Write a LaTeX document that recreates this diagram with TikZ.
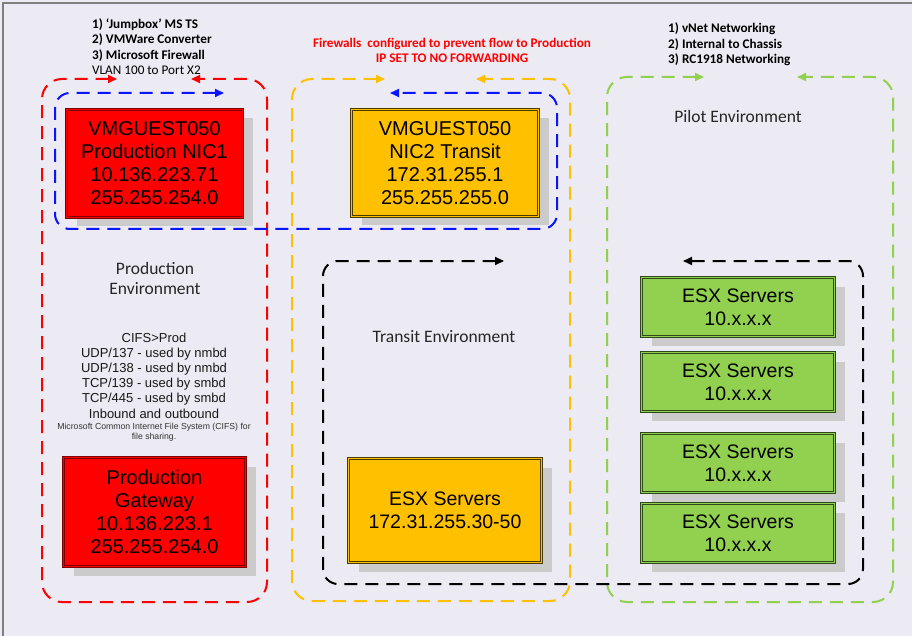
\documentclass[tikz,border=0pt]{standalone}
\usepackage{fontspec}
\setmainfont{Liberation Sans}
\newfontfamily\calfont{Carlito}
\usetikzlibrary{arrows.meta,shadows}
\definecolor{bg}{HTML}{ECEAF2}
\definecolor{framegray}{HTML}{808080}
\definecolor{cred}{HTML}{FF0000}
\definecolor{corg}{HTML}{FFC000}
\definecolor{cgrn}{HTML}{92D050}
\definecolor{cblu}{HTML}{0A14FF}
\definecolor{shadowgray}{HTML}{CBCBCB}
\definecolor{darkred}{HTML}{7A0000}
\definecolor{darkorg}{HTML}{4A3A00}
\definecolor{darkgrn}{HTML}{2F4A1A}
\begin{document}
\begin{tikzpicture}[x=1pt,y=-1pt,
  zone/.style={line width=2pt, dash pattern=on 13pt off 8pt, rounded corners=20pt, {Triangle[length=9pt,width=8pt]}-{Triangle[length=9pt,width=8pt]}},
  flow/.style={line width=2pt, dash pattern=on 13pt off 8pt, rounded corners=15pt, {Triangle[length=9pt,width=8pt]}-{Triangle[length=9pt,width=8pt]}},
  box/.style={line width=0.8pt, double distance=1.3pt, inner sep=0pt, align=center,
    font=\fontsize{20}{23}\selectfont,
    drop shadow={shadow xshift=10pt, shadow yshift=-9pt, fill=shadowgray, opacity=1}},
  redbox/.style={box, draw=darkred, double=cred, fill=cred},
  orgbox/.style={box, draw=darkorg, double=corg, fill=corg},
  grnbox/.style={box, draw=darkgrn, double=cgrn, fill=cgrn, font=\fontsize{19.5}{23}\selectfont},
  note/.style={inner sep=0pt, font=\calfont\fontsize{13.2}{15.6}\selectfont},
  envlabel/.style={inner sep=0pt, align=center, font=\calfont\fontsize{17.5}{20}\selectfont, text=black!85}
]
\useasboundingbox (0,0) rectangle (912,636);
\fill[bg] (0,0) rectangle (912,636);
\draw[framegray, line width=1.5pt] (3,636) -- (3,3) -- (912,3);

% zone end points
\coordinate (rA) at (117,79);  \coordinate (rB) at (191,79);
\coordinate (oA) at (385,79);  \coordinate (oB) at (476,79);
\coordinate (gA) at (704,77);  \coordinate (gB) at (797,77);
\coordinate (bA) at (224,93);  \coordinate (bB) at (390,93);
\coordinate (kA) at (504,261); \coordinate (kB) at (683,261);

% environment zones
\draw[zone, cred] (rA) -- (42,79) -- (42,602) -- (267,602) -- (267,79) -- (rB);
\draw[zone, corg] (oA) -- (292,79) -- (292,601) -- (570,601) -- (570,79) -- (oB);
\draw[zone, cgrn] (gA) -- (607,77) -- (607,602) -- (893,602) -- (893,77) -- (gB);

% flows
\draw[flow, cblu] (bA) -- (55,93) -- (55,229) -- (557,229) -- (557,93) -- (bB);
\draw[flow, black] (kA) -- (323,261) -- (323,584) -- (863,584) -- (863,261) -- (kB);

% boxes
\node[redbox, minimum width=176pt, minimum height=108pt] (nic1) at (154.5,163.5)
  {VMGUEST050\\Production NIC1\\10.136.223.71\\255.255.254.0};
\node[orgbox, minimum width=187pt, minimum height=107pt] (nic2) at (445,163)
  {VMGUEST050\\NIC2 Transit\\172.31.255.1\\255.255.255.0};
\node[redbox, minimum width=182pt, minimum height=109pt] (gw) at (154.5,512)
  {Production\\Gateway\\10.136.223.1\\255.255.254.0};
\node[orgbox, minimum width=193pt, minimum height=104pt, font=\fontsize{19.5}{23}\selectfont] (tesx) at (445,510.5)
  {ESX Servers\\172.31.255.30-50};
\node[grnbox, minimum width=193pt, minimum height=59pt] (g1) at (738,307) {ESX Servers\\10.x.x.x};
\node[grnbox, minimum width=193pt, minimum height=59pt] (g2) at (738,382) {ESX Servers\\10.x.x.x};
\node[grnbox, minimum width=193pt, minimum height=59pt] (g3) at (738,463) {ESX Servers\\10.x.x.x};
\node[grnbox, minimum width=193pt, minimum height=59pt] (g4) at (738,533) {ESX Servers\\10.x.x.x};

% notes (base anchor = baseline of last line)
\node[note, anchor=base west, align=left] (jump) at (92,75)
  {\textbf{1) ‘Jumpbox’ MS TS}\\\textbf{2) VMWare Converter}\\\textbf{3) Microsoft Firewall}\\VLAN 100 to Port X2};
\node[note, anchor=base, align=center, text=cred] (fw) at (452,63)
  {\textbf{Firewalls\ \ configured to prevent flow to Production}\\\textbf{IP SET TO NO FORWARDING}};
\node[note, anchor=base west, align=left] (vnet) at (668,64)
  {\textbf{1) vNet Networking}\\\textbf{2) Internal to Chassis}\\\textbf{3) RC1918 Networking}};

\node[envlabel, anchor=base] (pilot) at (738,123) {Pilot Environment};
\node[envlabel, anchor=base] (prod) at (155,294) {Production\\Environment};
\node[envlabel, anchor=base] (transit) at (444,342) {Transit Environment};

\node[inner sep=0pt, anchor=base, align=center, font=\fontsize{13}{15.2}\selectfont, text=black!90] (cifs) at (154,418)
  {CIFS>Prod\\UDP/137 - used by nmbd\\UDP/138 - used by nmbd\\TCP/139 - used by smbd\\TCP/445 - used by smbd\\Inbound and outbound};
\node[inner sep=0pt, anchor=base, align=center, font=\fontsize{8.7}{10}\selectfont, text=black!80] (cifsnote) at (154,439)
  {Microsoft Common Internet File System (CIFS) for\\file sharing.};
\end{tikzpicture}
\end{document}
